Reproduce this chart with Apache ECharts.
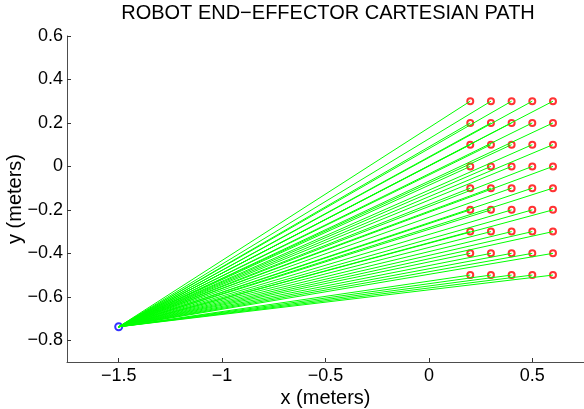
<!DOCTYPE html>
<html><head><meta charset="utf-8">
<script src="https://cdn.jsdelivr.net/npm/echarts@6/dist/echarts.min.js"></script>
<style>html,body{margin:0;padding:0;background:#fff}#c{width:584px;height:409px}</style>
</head><body><div id="c"></div>
<script>
const titleText = 'ROBOT END\u2212EFFECTOR CARTESIAN PATH';
const xName = 'x (meters)';
const yName = 'y (meters)';
const base = [-1.5, -0.738];
const targetX = [0.2, 0.3, 0.4, 0.5, 0.6];
const targetY = [0.3, 0.2, 0.1, 0.0, -0.1, -0.2, -0.3, -0.4, -0.5];
const xTicks = [-1.5, -1, -0.5, 0, 0.5];
const yTicks = [-0.8, -0.6, -0.4, -0.2, 0, 0.2, 0.4, 0.6];

const points = [];
targetY.forEach(y => targetX.forEach(x => points.push([x, y])));
const segs = points.map(p => ({coords: [base, p]}));

function fmt(v) {
  const r = Math.round(v * 10) / 10;
  const s = String(Math.abs(r));
  return (r < 0 ? '\u2212' : '') + s;
}
const font = 'Liberation Sans, Arial, Helvetica, sans-serif';
const chart = echarts.init(document.getElementById('c'), null, {renderer: 'canvas'});
chart.setOption({
  animation: false,
  grid: {left: 67, right: 0, top: 36, bottom: 47, containLabel: false, outerBoundsMode: 'none'},
  graphic: [{
    type: 'text', x: 328, y: 13.5,
    style: {text: titleText, fill: '#000', font: '20px ' + font, align: 'center', verticalAlign: 'middle'}
  }],
  xAxis: {
    type: 'value', min: -1.75, max: 0.75,
    name: xName, nameLocation: 'middle', nameGap: 26, nameMoveOverlap: false,
    nameTextStyle: {color: '#000', fontSize: 20, fontFamily: font},
    axisLine: {show: true, onZero: false, lineStyle: {color: '#4d4d4d', width: 1}},
    axisTick: {show: true, inside: true, length: 4, customValues: xTicks, lineStyle: {color: '#333'}},
    axisLabel: {customValues: xTicks, formatter: fmt, color: '#000', fontSize: 18, fontFamily: font, margin: 5},
    splitLine: {show: false}
  },
  yAxis: {
    type: 'value', min: -0.9, max: 0.6,
    name: yName, nameLocation: 'middle', nameGap: 42, nameMoveOverlap: false,
    nameTextStyle: {color: '#000', fontSize: 20, fontFamily: font},
    axisLine: {show: true, onZero: false, lineStyle: {color: '#4d4d4d', width: 1}},
    axisTick: {show: true, inside: true, length: 4, customValues: yTicks, lineStyle: {color: '#333'}},
    axisLabel: {customValues: yTicks, formatter: fmt, color: '#000', fontSize: 18, fontFamily: font, margin: 4},
    splitLine: {show: false}
  },
  series: [
    {
      type: 'scatter', data: points, symbol: 'emptyCircle', symbolSize: 6,
      itemStyle: {color: '#ff0000', borderColor: '#ff3010', borderWidth: 0.8}, z: 1
    },
    {
      type: 'scatter', data: [base], symbol: 'emptyCircle', symbolSize: 7,
      itemStyle: {color: '#0000ff', borderColor: '#0000ff', borderWidth: 2}, z: 2
    },
    {
      type: 'lines', coordinateSystem: 'cartesian2d', data: segs,
      lineStyle: {color: '#00ff00', width: 1, opacity: 1}, z: 3
    }
  ]
});
</script></body></html>
